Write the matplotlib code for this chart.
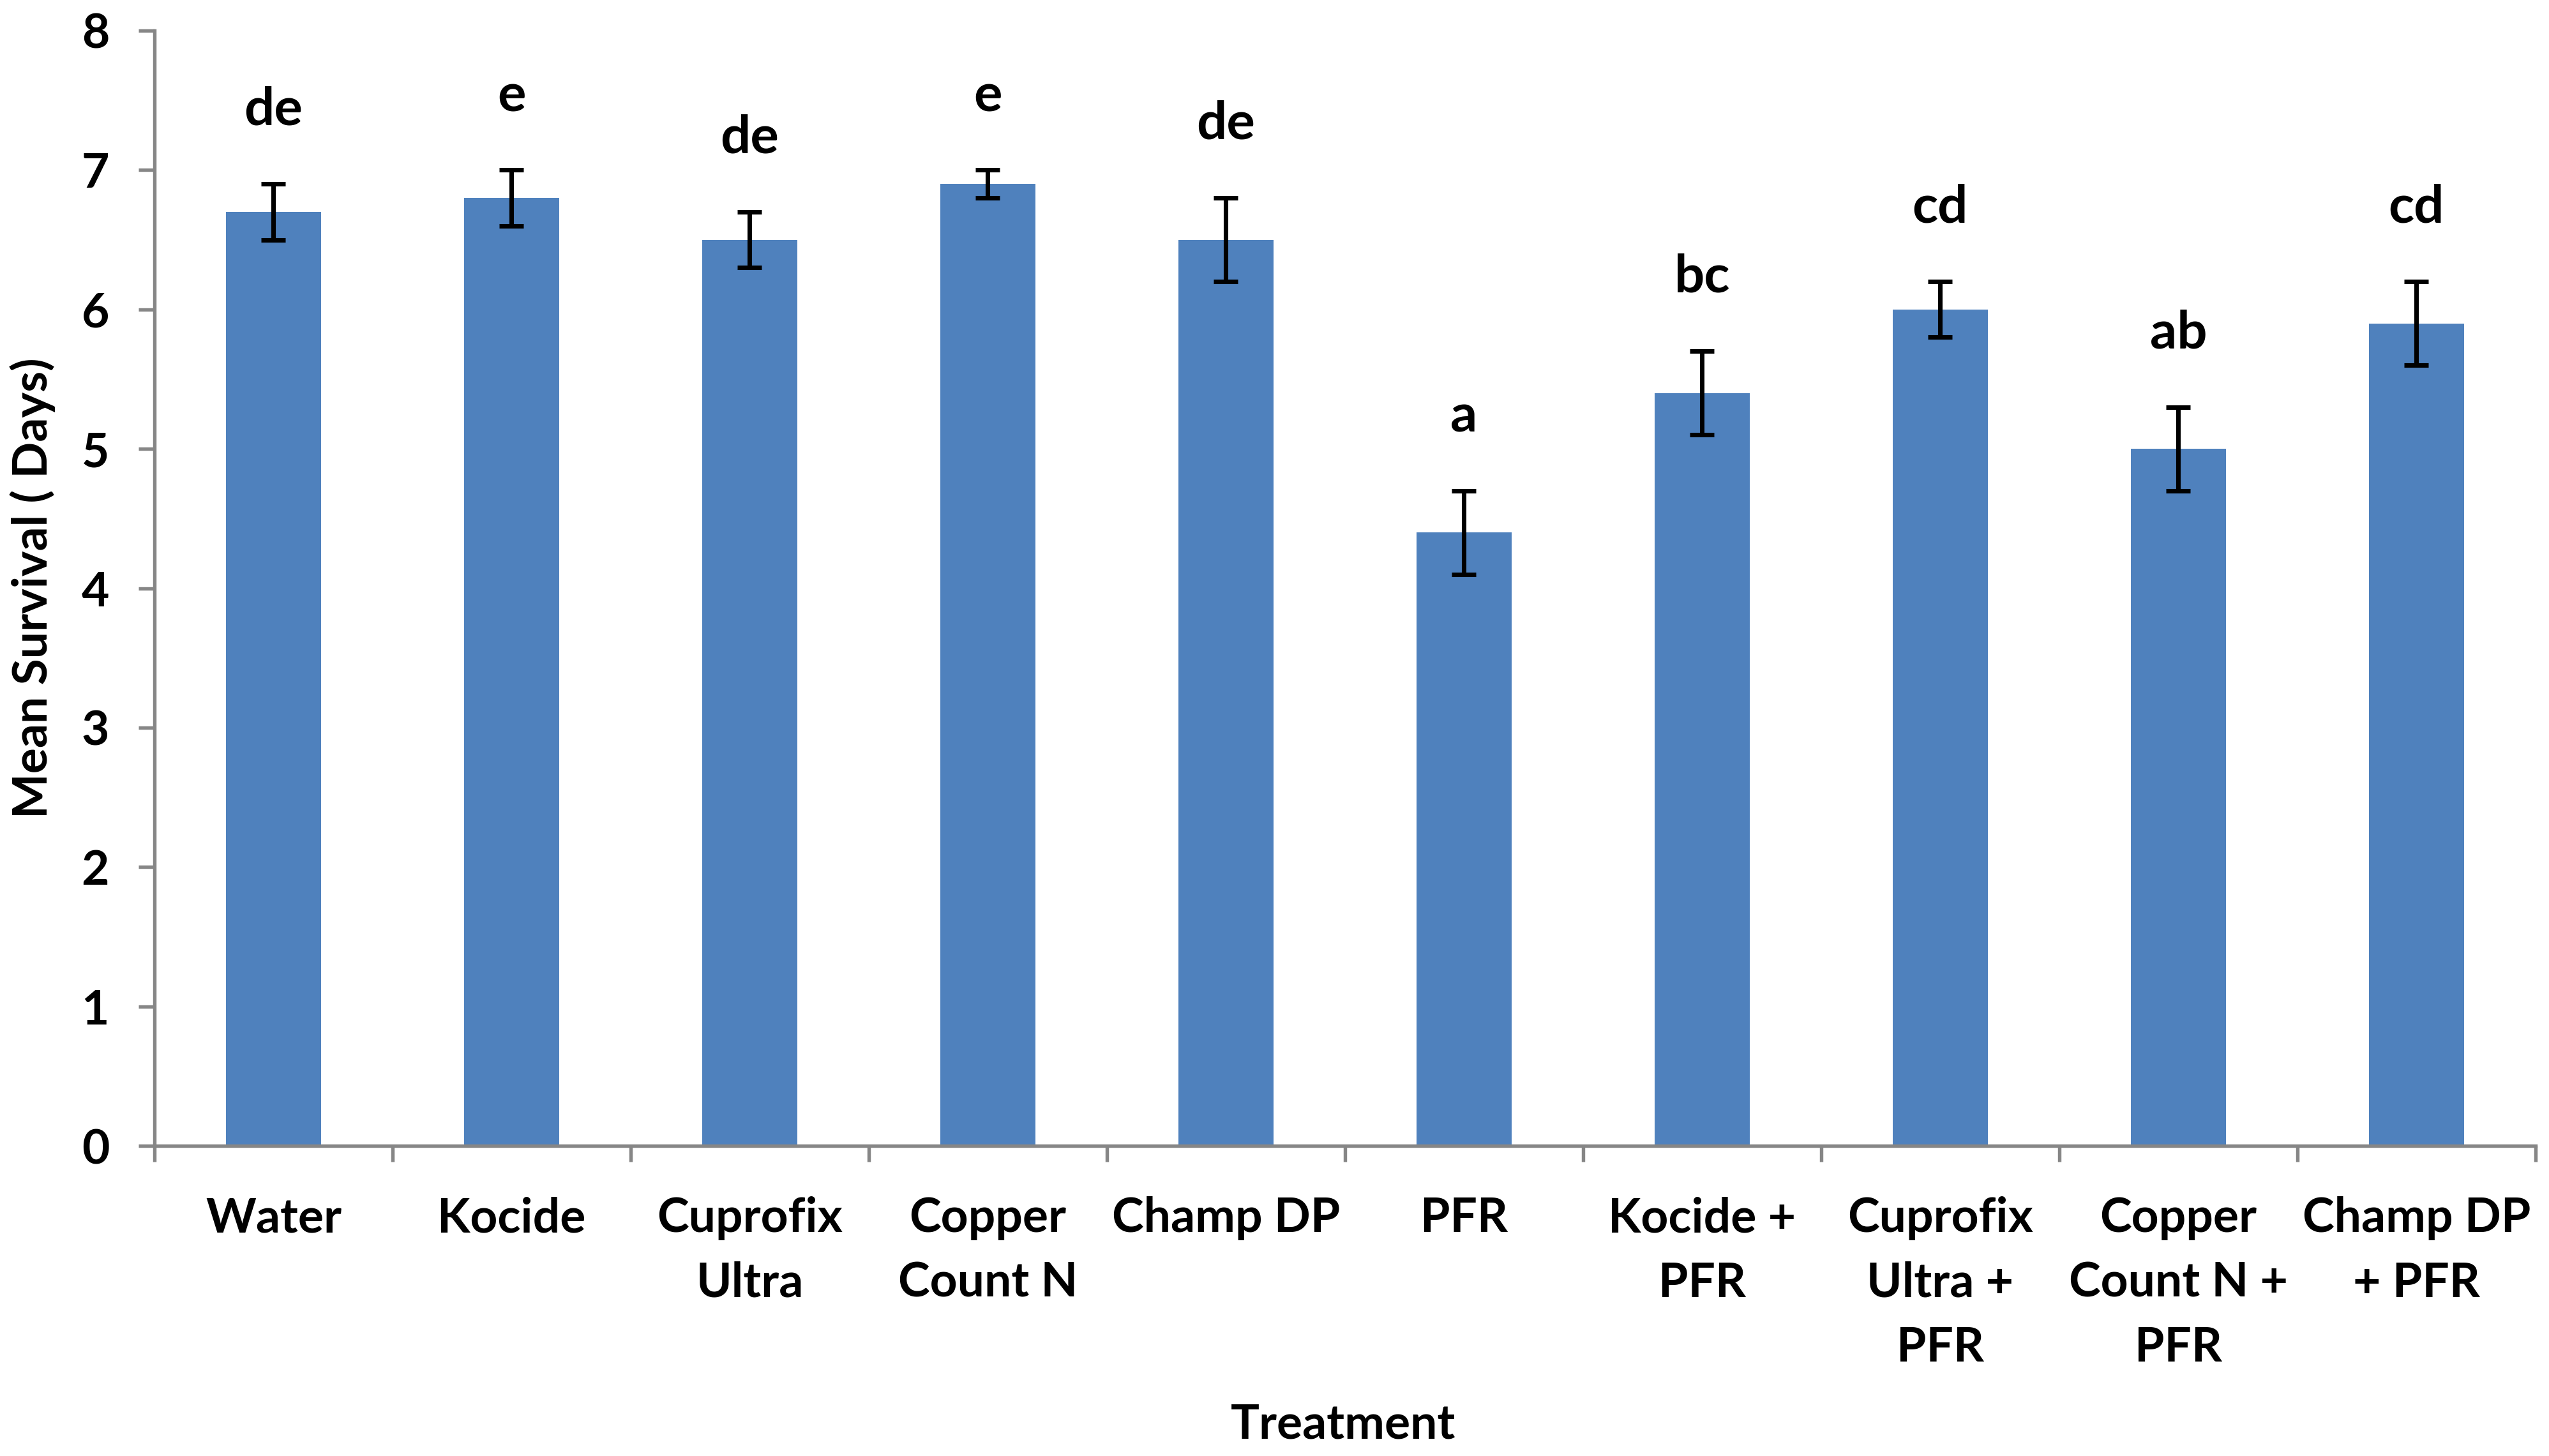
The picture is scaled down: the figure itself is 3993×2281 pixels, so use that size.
import numpy as np
import matplotlib.pyplot as plt

# valores
treatments = ["Water", "Kocide", "Cuprofix\nUltra", "Copper\nCount N", "Champ DP", "PFR",
              "Kocide +\nPFR", "Cuprofix\nUltra +\nPFR", "Copper\nCount N +\nPFR", "Champ DP\n+ PFR"]
mean_survival = [6.7, 6.8, 6.5, 6.9, 6.5, 4.4, 5.4, 6.0, 5.0, 5.9]
std_error = [0.2, 0.2, 0.2, 0.1, 0.3, 0.3, 0.3, 0.2, 0.3, 0.3]
letters = ["de", "e", "de", "e", "de", "a", "bc", "cd", "ab", "cd"]

plt.rcParams['font.family'] = ['Lato', 'DejaVu Sans']
plt.rcParams['font.weight'] = 'bold'

grey = '#868686'
x = np.arange(len(treatments))

fig = plt.figure(figsize=(3993 / 300, 2281 / 300), dpi=300)
ax = fig.add_axes([0.0606, 0.213, 0.9341, 0.766])

ax.bar(x, mean_survival, width=0.4, color='#4F81BD', zorder=2)
ax.errorbar(x, mean_survival, yerr=std_error, fmt='none', ecolor='black',
            elinewidth=1.7, capsize=4.5, capthick=1.7, zorder=3)

for i in range(len(x)):
    ax.text(x[i], mean_survival[i] + std_error[i] + 0.53, letters[i], ha='center', va='center',
            fontsize=20, fontweight='bold')

ax.set_xlim(-0.5, len(x) - 0.5)
ax.set_ylim(0, 8)
ax.set_yticks(range(0, 9))
ax.set_xticks(x)
ax.set_xticklabels(treatments, linespacing=1.58)
ax.set_xticks(np.arange(-0.5, len(x), 1), minor=True)

ax.tick_params(axis='x', which='major', length=0, pad=19, labelsize=18)
ax.tick_params(axis='x', which='minor', length=6, width=1.3, color=grey, direction='out')
ax.tick_params(axis='y', length=6, width=1.3, color=grey, pad=11, labelsize=18)

for s in ['top', 'right']:
    ax.spines[s].set_visible(False)
for s in ['left', 'bottom']:
    ax.spines[s].set_color(grey)
    ax.spines[s].set_linewidth(1.3)

# titulos dos eixos
fig.text(0.0128, 0.596, "Mean Survival ( Days)", rotation=90, ha='center', va='center',
         fontsize=18, fontweight='bold')
fig.text(0.527, 0.0215, "Treatment", ha='center', va='center', fontsize=18, fontweight='bold')

fig.savefig('out.png', dpi=300)
